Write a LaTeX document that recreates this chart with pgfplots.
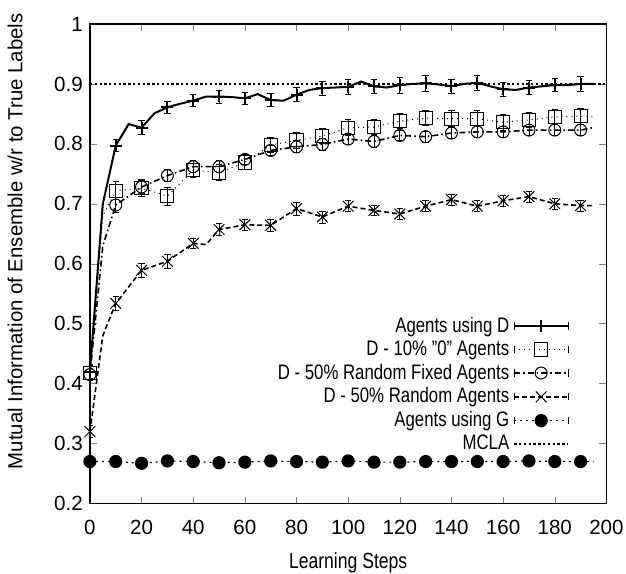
\documentclass[border=0pt]{standalone}
\usepackage{pgfplots}
\pgfplotsset{compat=1.18}
\usepackage{fontspec}
\setmainfont{Liberation Sans}[FakeStretch=0.8]
\newfontfamily\labelfont{Liberation Sans}

% legend entry: bar ends, line and one mark in the middle
\pgfplotsset{
  ebleg/.style={legend image code/.code={
    \draw[##1,mark=none] (0pt,0pt) -- (27pt,0pt);
    \draw[solid,thin] (0pt,-1.8pt) -- (0pt,1.8pt) (27pt,-1.8pt) -- (27pt,1.8pt);
    \draw[##1,solid] plot coordinates {(13.5pt,0pt)};
  }},
  lineleg/.style={legend image code/.code={
    \draw[##1] (0pt,0pt) -- (27pt,0pt);
  }},
}

\begin{document}
\begin{tikzpicture}
\begin{axis}[
  scale only axis,
  width=258.5pt, height=240pt,
  xmin=0, xmax=200, ymin=0.2, ymax=1,
  xtick={0,20,...,200},
  ytick={0.2,0.3,0.4,0.5,0.6,0.7,0.8,0.9,1},
  yticklabels={0.2,0.3,0.4,0.5,0.6,0.7,0.8,0.9,1},
  tick align=inside, xtick pos=both, ytick pos=both,
  major tick length=3.5pt,
  axis line style={line width=0.6pt},
  /pgf/number format/assume math mode=true,
  tick label style={font=\labelfont\fontsize{10.3}{12}\selectfont},
  xticklabel style={anchor=center, inner sep=1pt, yshift=-12pt},
  xlabel={Learning Steps},
  xlabel style={font=\fontsize{11}{13}\selectfont, at={(axis description cs:0.5,0)}, anchor=center, inner sep=0pt, yshift=-29.6pt},
  ylabel={Mutual Information of Ensemble w/r to True Labels},
  ylabel style={font=\labelfont\fontsize{10.2}{12}\selectfont, at={(axis description cs:-0.145,0.547)}, anchor=center, inner sep=0pt},
  legend plot pos=right,
  legend cell align=right,
  legend style={at={(axis cs:186.5,0.522)}, anchor=north east, draw=none, fill=none,
    font=\fontsize{10.5}{12}\selectfont, row sep=-1.2pt, inner sep=1pt},
  error bars/error bar style={solid, line width=0.4pt},
  error bars/error mark options={rotate=90, mark size=1.6pt, solid},
]
% lines
\addplot[black, line width=1pt, forget plot] coordinates {
 (0,0.42)(5,0.70)(10,0.797)(15,0.833)(20,0.827)(25,0.851)(30,0.861)(35,0.867)
 (40,0.872)(45,0.879)(50,0.879)(55,0.878)(60,0.876)(65,0.883)(70,0.873)(75,0.872)
 (80,0.882)(85,0.890)(90,0.893)(95,0.894)(100,0.895)(105,0.904)(110,0.896)(115,0.894)
 (120,0.898)(125,0.900)(130,0.901)(135,0.899)(140,0.896)(145,0.900)(150,0.902)(155,0.896)
 (160,0.891)(165,0.890)(170,0.894)(175,0.896)(180,0.898)(185,0.898)(190,0.900)(195,0.900)};
\addplot[black, line width=0.5pt, dotted, forget plot] coordinates {
 (0,0.418)(5,0.68)(10,0.722)(20,0.726)(30,0.713)(40,0.756)(50,0.752)(60,0.769)(70,0.798)
 (80,0.806)(90,0.813)(100,0.827)(110,0.828)(120,0.838)(130,0.843)(140,0.842)(150,0.842)
 (160,0.836)(170,0.840)(180,0.845)(190,0.846)(195,0.845)};
\addplot[black, line width=0.8pt, dash pattern=on 3pt off 1.5pt on 0.8pt off 1.5pt, forget plot] coordinates {
 (0,0.415)(5,0.63)(10,0.698)(20,0.728)(30,0.747)(40,0.762)(50,0.762)(60,0.774)(70,0.789)
 (80,0.795)(90,0.799)(100,0.808)(110,0.804)(120,0.814)(130,0.812)(140,0.818)(150,0.820)
 (160,0.820)(170,0.823)(180,0.823)(190,0.823)(195,0.827)};
\addplot[black, line width=0.8pt, dash pattern=on 2.5pt off 1.5pt, forget plot] coordinates {
 (0,0.32)(5,0.48)(10,0.534)(20,0.589)(30,0.604)(40,0.634)(45,0.632)(50,0.657)(60,0.665)
 (70,0.664)(80,0.692)(90,0.678)(100,0.696)(110,0.689)(120,0.683)(130,0.696)(140,0.707)
 (150,0.696)(160,0.705)(170,0.712)(180,0.700)(190,0.697)(195,0.697)};
\addplot[black, line width=0.6pt, dash pattern=on 1pt off 2pt, forget plot] coordinates {
 (0,0.270)(10,0.270)(20,0.267)(30,0.271)(40,0.270)(50,0.268)(60,0.269)(70,0.271)(80,0.270)
 (90,0.269)(100,0.271)(110,0.269)(120,0.269)(130,0.270)(140,0.270)(150,0.270)(160,0.270)
 (170,0.271)(180,0.270)(190,0.270)(195,0.270)};
% marks with error bars
\addplot[black, line width=1pt, mark=+, mark size=3pt, only marks, ebleg,
  error bars/.cd, y dir=both, y explicit] coordinates {
 (0,0.42)+-(0,0.012)(10,0.797)+-(0,0.010)(20,0.827)+-(0,0.012)(30,0.861)+-(0,0.010)
 (40,0.872)+-(0,0.010)(50,0.879)+-(0,0.011)(60,0.876)+-(0,0.010)(70,0.873)+-(0,0.011)
 (80,0.882)+-(0,0.012)(90,0.893)+-(0,0.012)(100,0.895)+-(0,0.012)(110,0.896)+-(0,0.012)
 (120,0.898)+-(0,0.013)(130,0.901)+-(0,0.013)(140,0.896)+-(0,0.012)(150,0.902)+-(0,0.013)
 (160,0.891)+-(0,0.012)(170,0.894)+-(0,0.012)(180,0.898)+-(0,0.011)(190,0.900)+-(0,0.012)};
\addlegendentry{Agents using D}
\addplot[black, line width=0.5pt, dotted, mark=square, mark size=3.3pt, mark options={solid}, only marks, ebleg,
  error bars/.cd, y dir=both, y explicit] coordinates {
 (0,0.418)+-(0,0.012)(10,0.722)+-(0,0.015)(20,0.726)+-(0,0.014)(30,0.713)+-(0,0.015)
 (40,0.756)+-(0,0.012)(50,0.752)+-(0,0.013)(60,0.769)+-(0,0.012)(70,0.798)+-(0,0.012)
 (80,0.806)+-(0,0.013)(90,0.813)+-(0,0.013)(100,0.827)+-(0,0.013)(110,0.828)+-(0,0.013)
 (120,0.838)+-(0,0.013)(130,0.843)+-(0,0.013)(140,0.842)+-(0,0.013)(150,0.842)+-(0,0.013)
 (160,0.836)+-(0,0.013)(170,0.840)+-(0,0.013)(180,0.845)+-(0,0.012)(190,0.846)+-(0,0.013)};
\addlegendentry{D - 10\% "0" Agents}
\addplot[black, line width=0.8pt, dash pattern=on 3pt off 1.5pt on 0.8pt off 1.5pt, mark=o, mark size=3pt, mark options={solid, line width=0.5pt}, only marks, ebleg,
  error bars/.cd, y dir=both, y explicit] coordinates {
 (0,0.415)+-(0,0.010)(10,0.698)+-(0,0.012)(20,0.728)+-(0,0.011)(30,0.747)+-(0,0.010)
 (40,0.762)+-(0,0.010)(50,0.762)+-(0,0.010)(60,0.774)+-(0,0.009)(70,0.789)+-(0,0.009)
 (80,0.795)+-(0,0.010)(90,0.799)+-(0,0.010)(100,0.808)+-(0,0.009)(110,0.804)+-(0,0.010)
 (120,0.814)+-(0,0.009)(130,0.812)+-(0,0.009)(140,0.818)+-(0,0.009)(150,0.820)+-(0,0.009)
 (160,0.820)+-(0,0.009)(170,0.823)+-(0,0.009)(180,0.823)+-(0,0.009)(190,0.823)+-(0,0.009)};
\addlegendentry{D - 50\% Random Fixed Agents}
\addplot[black, line width=0.8pt, dash pattern=on 2.5pt off 1.5pt, mark=x, mark size=3.8pt, mark options={solid, line width=0.5pt}, only marks, ebleg,
  error bars/.cd, y dir=both, y explicit] coordinates {
 (0,0.32)+-(0,0.010)(10,0.534)+-(0,0.012)(20,0.589)+-(0,0.011)(30,0.604)+-(0,0.012)
 (40,0.634)+-(0,0.009)(50,0.657)+-(0,0.010)(60,0.665)+-(0,0.009)(70,0.664)+-(0,0.010)
 (80,0.692)+-(0,0.011)(90,0.678)+-(0,0.010)(100,0.696)+-(0,0.009)(110,0.689)+-(0,0.009)
 (120,0.683)+-(0,0.009)(130,0.696)+-(0,0.009)(140,0.707)+-(0,0.009)(150,0.696)+-(0,0.009)
 (160,0.705)+-(0,0.009)(170,0.712)+-(0,0.009)(180,0.700)+-(0,0.009)(190,0.697)+-(0,0.009)};
\addlegendentry{D - 50\% Random Agents}
\addplot[black, line width=0.6pt, dash pattern=on 1pt off 2pt, mark=*, mark size=3pt, mark options={solid}, only marks, ebleg,
  error bars/.cd, y dir=both, y explicit] coordinates {
 (0,0.270)+-(0,0.008)(10,0.270)+-(0,0.008)(20,0.267)+-(0,0.008)(30,0.271)+-(0,0.008)
 (40,0.270)+-(0,0.008)(50,0.268)+-(0,0.008)(60,0.269)+-(0,0.008)(70,0.271)+-(0,0.008)
 (80,0.270)+-(0,0.008)(90,0.269)+-(0,0.008)(100,0.271)+-(0,0.008)(110,0.269)+-(0,0.008)
 (120,0.269)+-(0,0.008)(130,0.270)+-(0,0.008)(140,0.270)+-(0,0.008)(150,0.270)+-(0,0.008)
 (160,0.270)+-(0,0.008)(170,0.271)+-(0,0.008)(180,0.270)+-(0,0.008)(190,0.270)+-(0,0.008)};
\addlegendentry{Agents using G}
\addplot[black, line width=0.8pt, dash pattern=on 1.2pt off 1.2pt, no marks, lineleg] coordinates {(0,0.9)(200,0.9)};
\addlegendentry{MCLA}
\coordinate (bl) at (rel axis cs:0,0);
\coordinate (tr) at (rel axis cs:1,1);
\end{axis}
\path (bl) ++(-45pt,-35pt) rectangle ([shift={(9.8pt,12pt)}]tr);
\end{tikzpicture}
\end{document}
